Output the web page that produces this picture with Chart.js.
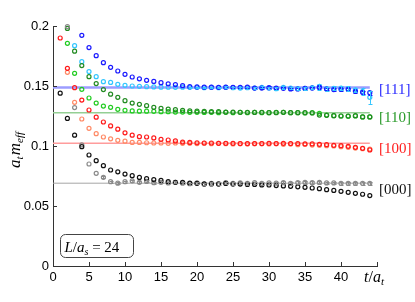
<!DOCTYPE html>
<html lang="en">
<head>
  <meta charset="UTF-8" />
  <title>Effective mass plateaus, L/a_s = 24</title>
  <script src="https://cdn.jsdelivr.net/npm/chart.js"></script>
  <style>
    html, body { margin: 0; padding: 0; background: #fff; }
    #wrap { width: 415px; height: 302px; position: relative; }
  </style>
</head>
<body>
  <div id="wrap"><canvas id="effMassChart"></canvas></div>

  <script>
    // time slices t/a_t
    const timeSlices = [1, 2, 3, 4, 5, 6, 7, 8, 9, 10, 11, 12, 13, 14, 15, 16, 17, 18, 19, 20, 21, 22,
                        23, 24, 25, 26, 27, 28, 29, 30, 31, 32, 33, 34, 35, 36, 37, 38, 39, 40, 41, 42, 43, 44];

    // a_t m_eff for each momentum, two operators each (dark / light)
    const mom000a = [0.144, 0.123, 0.109, 0.0994, 0.0925, 0.0878, 0.0836, 0.0800, 0.0785, 0.0766,
                     0.0753, 0.0738, 0.0728, 0.0720, 0.0713, 0.0703, 0.0698, 0.0697, 0.0690, 0.0689,
                     0.0684, 0.0684, 0.0683, 0.0688, 0.0683, 0.0683, 0.0680, 0.0680, 0.0676, 0.0675,
                     0.0670, 0.0667, 0.0664, 0.0660, 0.0656, 0.0650, 0.0644, 0.0636, 0.0630, 0.0622,
                     0.0614, 0.0606, 0.0598, 0.0587];
    const mom000b = [null, 0.1995, 0.132, 0.101, 0.085, 0.0772, 0.0739, 0.0703, 0.0690, 0.0703,
                     0.0710, 0.0697, 0.0705, 0.0694, 0.0697, 0.0692, 0.0697, 0.0690, 0.0686, 0.0692,
                     0.0683, 0.0689, 0.0686, 0.0694, 0.0689, 0.0692, 0.0689, 0.0694, 0.0689, 0.0692,
                     0.0690, 0.0694, 0.0688, 0.0694, 0.0697, 0.0694, 0.0697, 0.0692, 0.0692, 0.0689,
                     0.0689, 0.0689, 0.0689, 0.0689];
    const mom100a = [0.190, 0.1647, 0.1486, 0.1383, 0.1300, 0.1240, 0.1200, 0.1167, 0.1140, 0.1110,
                     0.1090, 0.1078, 0.1075, 0.1067, 0.1056, 0.1050, 0.1042, 0.1033, 0.1030, 0.1027,
                     0.1025, 0.1025, 0.1022, 0.1022, 0.1022, 0.1020, 0.1020, 0.1020, 0.1020, 0.1022,
                     0.1020, 0.1022, 0.1020, 0.1020, 0.1017, 0.1017, 0.1014, 0.1011, 0.1006, 0.1003,
                     0.0997, 0.0989, 0.0981, 0.0967];
    const mom100b = [null, 0.1614, 0.1364, 0.1225, 0.1147, 0.1103, 0.1075, 0.1060, 0.1047, 0.1040,
                     0.1030, 0.1030, 0.1027, 0.1025, 0.1025, 0.1022, 0.1025, 0.1022, 0.1022, 0.1020,
                     0.1022, 0.1019, 0.1022, 0.1019, 0.1017, 0.1019, 0.1017, 0.1019, 0.1019, 0.1017,
                     0.1019, 0.1014, 0.1017, 0.1011, 0.1014, 0.1008, 0.1006, 0.1003, 0.1000, 0.0994,
                     0.0989, 0.0983, 0.0978, 0.0975];
    const mom110a = [null, 0.198, 0.179, 0.167, 0.1578, 0.1520, 0.1470, 0.1432, 0.1406, 0.1378,
                     0.1358, 0.1347, 0.1336, 0.1322, 0.1314, 0.1308, 0.1303, 0.1297, 0.1292, 0.1290,
                     0.1289, 0.1286, 0.1286, 0.1283, 0.1283, 0.1281, 0.1281, 0.1280, 0.1281, 0.1278,
                     0.1278, 0.1281, 0.1278, 0.1278, 0.1278, 0.1275, 0.1258, 0.1256, 0.1253, 0.1250,
                     0.1250, 0.1253, 0.1242, 0.1242];
    const mom110b = [null, 0.1856, 0.1606, 0.1472, 0.1400, 0.1358, 0.1333, 0.1322, 0.1306, 0.1297,
                     0.1292, 0.1290, 0.1290, 0.1289, 0.1286, 0.1286, 0.1283, 0.1283, 0.1281, 0.1281,
                     0.1280, 0.1281, 0.1278, 0.1281, 0.1278, 0.1281, 0.1278, 0.1281, 0.1278, 0.1278,
                     0.1280, 0.1281, 0.1278, 0.1278, 0.1275, 0.1278, 0.1272, 0.1258, 0.1253, 0.1250,
                     0.1247, 0.1250, 0.1242, 0.1242];
    const mom111a = [null, null, null, 0.1922, 0.1820, 0.1753, 0.1694, 0.1656, 0.1625, 0.1597,
                     0.1575, 0.1560, 0.1547, 0.1538, 0.1528, 0.1518, 0.1512, 0.1503, 0.1494, 0.1492,
                     0.1490, 0.1490, 0.1489, 0.1490, 0.1489, 0.1489, 0.1490, 0.1483, 0.1483, 0.1486,
                     0.1483, 0.1481, 0.1475, 0.1475, 0.1480, 0.1483, 0.1490, 0.1475, 0.1470, 0.1472,
                     0.1472, 0.1456, 0.1447, 0.1444];
    const mom111b = [null, null, 0.1836, 0.1703, 0.1620, 0.1578, 0.1536, 0.1530, 0.1514, 0.1506,
                     0.1500, 0.1497, 0.1494, 0.1492, 0.1490, 0.1490, 0.1489, 0.1490, 0.1489, 0.1489,
                     0.1486, 0.1489, 0.1486, 0.1489, 0.1486, 0.1483, 0.1486, 0.1483, 0.1489, 0.1483,
                     0.1478, 0.1489, 0.1483, 0.1478, 0.1481, 0.1486, 0.1494, 0.1478, 0.1481, 0.1483,
                     0.1478, 0.1467, 0.1456, 0.1406];

    // statistical errors (only where visible)
    const err000b = [0, 0, 0, 0, 0, 0, 0.0008, 0.0008, 0.0008, 0.0008,
                     0.0008, 0.0008, 0.0008, 0.0008, 0.0009, 0.0009, 0.0009, 0.0009, 0.0009, 0.0009,
                     0.0009, 0.0010, 0.0010, 0.0010, 0.0010, 0.0010, 0.0010, 0.0010, 0.0010, 0.0010,
                     0.0010, 0.0011, 0.0011, 0.0011, 0.0011, 0.0011, 0.0012, 0.0012, 0.0012, 0.0012,
                     0.0012, 0.0012, 0.0013, 0.0013];
    const err111a = [0, 0, 0, 0, 0, 0, 0, 0, 0, 0,
                     0, 0, 0, 0, 0, 0, 0, 0, 0, 0,
                     0, 0, 0, 0, 0, 0, 0, 0.0008, 0.0008, 0.0012,
                     0.0009, 0.0009, 0.0010, 0.0010, 0.0010, 0.0011, 0.0012, 0.0012, 0.0012, 0.0013,
                     0.0013, 0.0014, 0.0015, 0.0016];
    const err111b = [0, 0, 0, 0, 0, 0, 0, 0, 0, 0,
                     0, 0, 0, 0, 0, 0, 0, 0, 0.0005, 0.0005,
                     0.0006, 0.0006, 0.0006, 0.0007, 0.0007, 0.0008, 0.0008, 0.0009, 0.0009, 0.0010,
                     0.0010, 0.0012, 0.0012, 0.0013, 0.0014, 0.0015, 0.0025, 0.0016, 0.0018, 0.0018,
                     0.0019, 0.0020, 0.0030, 0.0055];

    // plateau fits: [000], [100], [110], [111]
    const fitLabels = ['[000]', '[100]', '[110]', '[111]'];
    const fitMasses = [0.0690, 0.1022, 0.1278, 0.1488];
    const fitRange = [0, 44];

    const axisColor = '#333333';
    const serif = '"Liberation Serif", "DejaVu Serif", serif';
    const sans = '"Liberation Sans", Arial, sans-serif';

    function toPoints(values, errs) {
      const pts = [];
      values.forEach((v, i) => {
        if (v === null) return;
        pts.push({ x: timeSlices[i], y: v, e: errs ? errs[i] : 0 });
      });
      return pts;
    }

    function pointSet(label, values, color, errs) {
      return {
        label,
        data: toPoints(values, errs),
        borderColor: color,
        backgroundColor: 'rgba(0,0,0,0)',
        pointRadius: 2,
        pointHoverRadius: 2,
        pointBorderWidth: 1.2,
        showLine: false,
        clip: false,
        order: 1
      };
    }

    const fitColors = ['#a6a6a6', '#ff9c9c', '#94cf94', '#9c9cff'];
    const fitWidths = [1, 1.5, 1.5, 2.5];
    const fitSets = fitMasses.map((m, k) => ({
      label: 'fit ' + fitLabels[k],
      data: [{ x: fitRange[0], y: m }, { x: fitRange[1], y: m }],
      borderColor: fitColors[k],
      borderWidth: fitWidths[k],
      pointRadius: 0,
      showLine: true,
      order: 10
    }));

    const datasets = [
      ...fitSets,
      pointSet('[000] a', mom000a, '#111111'),
      pointSet('[000] b', mom000b, '#8a8a8a', err000b),
      pointSet('[100] a', mom100a, '#ff1a1a'),
      pointSet('[100] b', mom100b, '#ff8a66'),
      pointSet('[110] a', mom110a, '#228b22'),
      pointSet('[110] b', mom110b, '#22cc22'),
      pointSet('[111] a', mom111a, '#1a1aff', err111a),
      pointSet('[111] b', mom111b, '#33c6ff', err111b)
    ];

    // vertical error bars with small caps
    const errorBars = {
      id: 'errorBars',
      afterDatasetsDraw(chart) {
        const { ctx } = chart;
        const yScale = chart.scales.y;
        ctx.save();
        ctx.lineWidth = 1;
        chart.data.datasets.forEach((ds, i) => {
          const meta = chart.getDatasetMeta(i);
          ds.data.forEach((p, j) => {
            if (!p.e) return;
            const el = meta.data[j];
            const px = Math.round(el.x) + 0.5;
            const top = yScale.getPixelForValue(p.y + p.e);
            const bot = yScale.getPixelForValue(p.y - p.e);
            ctx.strokeStyle = ds.borderColor;
            ctx.beginPath();
            ctx.moveTo(px, top); ctx.lineTo(px, bot);
            ctx.moveTo(px - 2, Math.round(top) + 0.5); ctx.lineTo(px + 2, Math.round(top) + 0.5);
            ctx.moveTo(px - 2, Math.round(bot) + 0.5); ctx.lineTo(px + 2, Math.round(bot) + 0.5);
            ctx.stroke();
          });
        });
        ctx.restore();
      }
    };

    // draws a run of text pieces: [text, font, dy]
    function drawRuns(ctx, x, y, runs) {
      runs.forEach(([text, font, dy]) => {
        ctx.font = font;
        ctx.fillText(text, x, y + dy);
        x += ctx.measureText(text).width;
      });
      return x;
    }

    const decor = {
      id: 'decor',
      afterDraw(chart) {
        const { ctx, chartArea: area } = chart;
        const { x, y } = chart.scales;
        ctx.save();

        // inward ticks
        ctx.strokeStyle = axisColor;
        ctx.lineWidth = 1;
        ctx.beginPath();
        y.ticks.forEach(t => {
          const py = Math.round(y.getPixelForValue(t.value)) + 0.5;
          ctx.moveTo(area.left, py); ctx.lineTo(area.left + 4, py);
        });
        x.ticks.forEach(t => {
          const px = Math.round(x.getPixelForValue(t.value)) + 0.5;
          ctx.moveTo(px, area.bottom); ctx.lineTo(px, area.bottom - 4);
        });
        ctx.stroke();

        // momentum labels at the right end of each plateau
        const labelColors = ['#111111', '#ff2020', '#2a9a2a', '#2b2bff'];
        const labelShift = [7, 5.5, 5, 2.5];
        ctx.textBaseline = 'middle';
        ctx.font = '15px ' + serif;
        fitMasses.forEach((m, k) => {
          ctx.fillStyle = labelColors[k];
          ctx.fillText(fitLabels[k], area.right + 2, y.getPixelForValue(m) + labelShift[k]);
        });

        ctx.fillStyle = '#000';
        ctx.textBaseline = 'alphabetic';

        // x axis title t/a_t under the last tick
        drawRuns(ctx, area.right - 13, 282, [
          ['t', 'italic 16px ' + serif, 0],
          ['/', '16px ' + serif, 0],
          ['a', 'italic 16px ' + serif, 0],
          ['t', 'italic 11px ' + serif, 3]
        ]);

        // y axis title a_t m_eff
        ctx.save();
        ctx.translate(20, 168);
        ctx.rotate(-Math.PI / 2);
        drawRuns(ctx, 0, 0, [
          ['a', 'italic 17px ' + serif, 0],
          ['t', 'italic 11px ' + serif, 3],
          [' ', '5px ' + serif, 0],
          ['m', 'italic 17px ' + serif, 0],
          ['eff', 'italic 11px ' + serif, 3]
        ]);
        ctx.restore();

        // lattice size box
        const bx = area.left + 7.5, by = 234.5, bw = 73, bh = 23, r = 5;
        ctx.strokeStyle = '#444';
        ctx.lineWidth = 1;
        ctx.beginPath();
        ctx.roundRect(bx, by, bw, bh, r);
        ctx.stroke();
        drawRuns(ctx, bx + 4, by + 17, [
          ['L', 'italic 15px ' + serif, 0],
          ['/', '15px ' + serif, 0],
          ['a', 'italic 15px ' + serif, 0],
          ['s', 'italic 10px ' + serif, 3],
          [' = 24', '15px ' + serif, 0]
        ]);

        ctx.restore();
      }
    };

    new Chart(document.getElementById('effMassChart'), {
      type: 'scatter',
      data: { datasets },
      options: {
        responsive: true,
        maintainAspectRatio: false,
        animation: false,
        layout: { padding: { left: 0, right: 38, top: 26, bottom: 0 } },
        plugins: { legend: { display: false }, tooltip: { enabled: false } },
        scales: {
          x: {
            type: 'linear',
            min: 0,
            max: 45,
            ticks: {
              stepSize: 5,
              padding: 4,
              color: '#000',
              maxRotation: 0,
              autoSkip: false,
              font: { family: sans, size: 13 },
              callback: v => (v === 45 ? '' : v)
            },
            grid: { display: true, drawOnChartArea: false, drawTicks: false },
            border: { display: true, color: axisColor, width: 1 },
            afterFit: s => { s.height = 36; }
          },
          y: {
            min: 0,
            max: 0.2,
            ticks: {
              stepSize: 0.05,
              padding: 4,
              color: '#000',
              font: { family: sans, size: 13 },
              callback: v => String(+v.toFixed(3))
            },
            grid: { display: true, drawOnChartArea: false, drawTicks: false },
            border: { display: true, color: axisColor, width: 1 },
            afterFit: s => { s.width = 53; }
          }
        }
      },
      plugins: [errorBars, decor]
    });
  </script>
</body>
</html>
